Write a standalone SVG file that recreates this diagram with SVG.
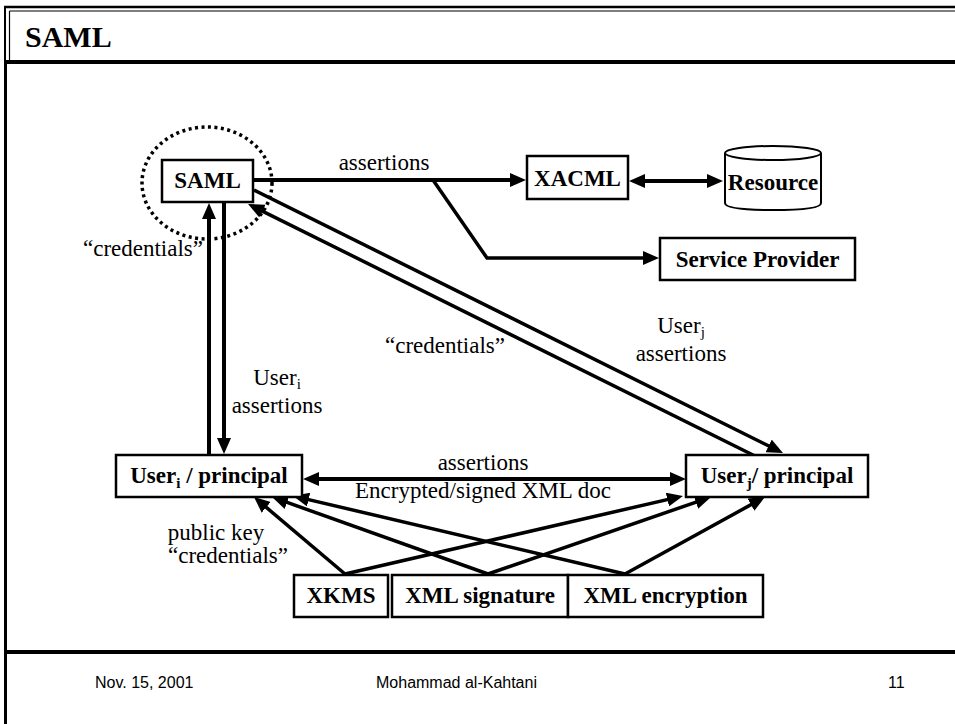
<svg xmlns="http://www.w3.org/2000/svg" width="955" height="724" viewBox="0 0 955 724">
<style>
.box{fill:#fff;stroke:#000;stroke-width:2.5}
.nt{font-family:"Liberation Serif","Times New Roman",serif;font-weight:bold;font-size:23px;fill:#000;text-anchor:middle}
.lt{font-family:"Liberation Serif","Times New Roman",serif;font-size:23px;fill:#000;text-anchor:middle}
.ft{font-family:"Liberation Sans",Arial,sans-serif;font-size:16px;fill:#000}
.ar{fill:none;stroke:#000;stroke-width:4}
.ar2{fill:none;stroke:#000;stroke-width:3.5}
.frame{fill:none;stroke:#000}
</style>
<defs>
<marker id="ah" viewBox="0 0 16 14" refX="11" refY="7" markerWidth="16" markerHeight="14" markerUnits="userSpaceOnUse" orient="auto-start-reverse">
<path d="M0,0 L16,7 L0,14 z" fill="#000"/>
</marker>
</defs>
<rect width="955" height="724" fill="#fff"/>
<g id="frame">
<line class="frame" x1="4" y1="7" x2="955" y2="7" stroke-width="2.5"/>
<line class="frame" x1="9.5" y1="11" x2="955" y2="11" stroke-width="1.2"/>
<line class="frame" x1="5" y1="6" x2="5" y2="62" stroke-width="2"/>
<line class="frame" x1="9.5" y1="11" x2="9.5" y2="62" stroke-width="1.2"/>
<line class="frame" x1="4" y1="62" x2="955" y2="62" stroke-width="4"/>
<line class="frame" x1="5.5" y1="62" x2="5.5" y2="724" stroke-width="3"/>
<line class="frame" x1="4" y1="652" x2="955" y2="652" stroke-width="4"/>
<text x="25" y="47" font-family="'Liberation Serif','Times New Roman',serif" font-weight="bold" font-size="30" fill="#000">SAML</text>
</g>
<g id="connectors">
<line class="ar" x1="253" y1="180" x2="521" y2="180" marker-end="url(#ah)"/>
<polyline class="ar2" points="433,180 487,258 654,258" marker-end="url(#ah)"/>
<line class="ar" x1="634" y1="181" x2="718" y2="181" marker-start="url(#ah)" marker-end="url(#ah)"/>
<line class="ar" x1="209" y1="455" x2="209" y2="208" marker-end="url(#ah)"/>
<line class="ar" x1="224" y1="202" x2="224" y2="449" marker-end="url(#ah)"/>
<line class="ar2" x1="254" y1="190" x2="778.5" y2="450.8" marker-end="url(#ah)"/>
<line class="ar2" x1="755" y1="456" x2="252.5" y2="206.2" marker-end="url(#ah)"/>
<line class="ar" x1="308" y1="479" x2="681" y2="479" marker-start="url(#ah)" marker-end="url(#ah)"/>
<line class="ar2" x1="345" y1="574" x2="257.8" y2="500.2" marker-end="url(#ah)"/>
<line class="ar2" x1="345" y1="574" x2="678.1" y2="497.1" marker-end="url(#ah)"/>
<line class="ar2" x1="488" y1="574" x2="276.7" y2="498.7" marker-end="url(#ah)"/>
<line class="ar2" x1="488" y1="574" x2="706.3" y2="498.6" marker-end="url(#ah)"/>
<line class="ar2" x1="625" y1="574" x2="297.9" y2="497.1" marker-end="url(#ah)"/>
<line class="ar2" x1="625" y1="574" x2="760.6" y2="499.4" marker-end="url(#ah)"/>
</g>
<g id="labels">
<text class="lt" x="384" y="170">assertions</text>
<text class="lt" x="203" y="256" style="text-anchor:end">“credentials”</text>
<text class="lt" x="445" y="353">“credentials”</text>
<text class="lt" x="681" y="333">User<tspan font-size="15" dy="4">j</tspan></text>
<text class="lt" x="681" y="361">assertions</text>
<text class="lt" x="277" y="385">User<tspan font-size="15" dy="4">i</tspan></text>
<text class="lt" x="277" y="413">assertions</text>
<text class="lt" x="483" y="470">assertions</text>
<text class="lt" x="483" y="498">Encrypted/signed XML doc</text>
<text class="lt" x="216" y="540">public key</text>
<text class="lt" x="228" y="563">“credentials”</text>
</g>
<g id="saml">
<ellipse cx="207" cy="183" rx="65" ry="56" fill="none" stroke="#000" stroke-width="3.5" stroke-dasharray="3 3.5"/>
<rect class="box" x="162" y="160" width="91" height="42"/>
<text class="nt" x="207.5" y="188">SAML</text>
</g>
<g id="xacml">
<rect class="box" x="527" y="156" width="101" height="43"/>
<text class="nt" x="577.5" y="186">XACML</text>
</g>
<g id="resource">
<path d="M725,153 L725,203 Q725,210 773,210 Q821,210 821,203 L821,153" fill="#fff" stroke="#000" stroke-width="2"/>
<ellipse cx="773" cy="153" rx="48" ry="7" fill="#fff" stroke="#000" stroke-width="2"/>
<text class="nt" x="773" y="190">Resource</text>
</g>
<g id="service-provider">
<rect class="box" x="660" y="238" width="195" height="42"/>
<text class="nt" x="757.5" y="267">Service Provider</text>
</g>
<g id="user-i">
<rect class="box" x="116" y="455" width="186" height="42"/>
<text class="nt" x="209" y="483">User<tspan font-size="15" dy="5">i</tspan><tspan dy="-5"> / principal</tspan></text>
</g>
<g id="user-j">
<rect class="box" x="686" y="455" width="182" height="42"/>
<text class="nt" x="777" y="483">User<tspan font-size="15" dy="5">j</tspan><tspan dy="-5">/ principal</tspan></text>
</g>
<g id="xkms">
<rect class="box" x="294" y="575" width="94" height="42"/>
<text class="nt" x="341" y="603">XKMS</text>
</g>
<g id="xml-signature">
<rect class="box" x="392" y="575" width="176" height="42"/>
<text class="nt" x="480" y="603">XML signature</text>
</g>
<g id="xml-encryption">
<rect class="box" x="568" y="575" width="195" height="42"/>
<text class="nt" x="665.5" y="603">XML encryption</text>
</g>
<g id="footer">
<text class="ft" x="95" y="688">Nov. 15, 2001</text>
<text class="ft" x="376" y="688">Mohammad al-Kahtani</text>
<text class="ft" x="888" y="688">11</text>
</g>
</svg>
